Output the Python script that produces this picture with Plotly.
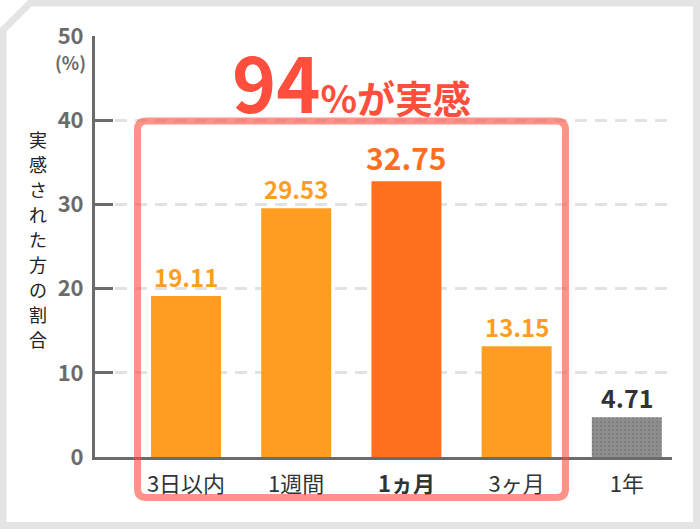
import plotly.graph_objects as go

categories = ["3日以内", "1週間", "1ヵ月", "3ヶ月", "1年"]
values = [19.11, 29.53, 32.75, 13.15, 4.71]
value_labels = ["19.11", "29.53", "32.75", "13.15", "4.71"]
bar_colors = ["#FF9D21", "#FF9D21", "#FF6F1F", "#FF9D21", "#8E8E8E"]
label_colors = ["#FF9D21", "#FF9D21", "#FF6F1F", "#FF9D21", "#333333"]
label_sizes = [24, 24, 30, 24, 25]
bold_category = "1ヵ月"
y_ticks = [0, 10, 20, 30, 40, 50]
y_title = "実感された方の割合"
headline_big = "94"
headline_small = "%が実感"

FONT = "Noto Sans CJK JP"
W, H = 700, 529
L, R, T, B = 95, 28, 36, 72
PW, PH = W - L - R, H - T - B


def px(x):
    return (x - L) / PW


def py(y):
    return (H - B - y) / PH


x_idx = list(range(len(categories)))
ticktext = [f"<b>{c}</b>" if c == bold_category else c for c in categories]

fig = go.Figure()
fig.add_trace(go.Bar(
    x=x_idx, y=values, width=0.635,
    marker=dict(color=bar_colors, line=dict(width=0),
                pattern=dict(shape=["", "", "", "", "."], fgcolor="#9E9E9E",
                             bgcolor=bar_colors, size=4, solidity=0.12)),
    hoverinfo="skip",
))

annotations = []
for i, v in enumerate(values):
    annotations.append(dict(
        x=i, y=v, xref="x", yref="y", text=f"<b>{value_labels[i]}</b>",
        showarrow=False, yanchor="bottom", yshift=0,
        font=dict(family=FONT, size=label_sizes[i], color=label_colors[i])))

# y-axis title, stacked vertically
pitch = 25
annotations.append(dict(
    x=px(38), y=py(239), xref="paper", yref="paper",
    text="<br>".join(f"<span style='font-size:18px'>{c}</span>" for c in y_title),
    showarrow=False, xanchor="center", yanchor="middle", borderpad=0,
    font=dict(family=FONT, size=pitch / 1.3, color="#222222")))

annotations.append(dict(
    x=px(88), y=py(62), xref="paper", yref="paper", text="<b>(%)</b>",
    showarrow=False, xanchor="right", yanchor="middle",
    font=dict(family=FONT, size=18, color="#6B6B6B")))

annotations.append(dict(
    x=px(351), y=py(80), xref="paper", yref="paper",
    text=f"<b><span style='font-size:75px'>{headline_big}</span>"
         f"<span style='font-size:38px'>{headline_small}</span></b>",
    showarrow=False, xanchor="center", yanchor="middle",
    font=dict(family=FONT, size=38, color="#FF4F3C")))


def rounded_rect(x0, y0, x1, y1, r):
    return (f"M {px(x0 + r)},{py(y0)} L {px(x1 - r)},{py(y0)} "
            f"Q {px(x1)},{py(y0)} {px(x1)},{py(y0 + r)} "
            f"L {px(x1)},{py(y1 - r)} Q {px(x1)},{py(y1)} {px(x1 - r)},{py(y1)} "
            f"L {px(x0 + r)},{py(y1)} Q {px(x0)},{py(y1)} {px(x0)},{py(y1 - r)} "
            f"L {px(x0)},{py(y0 + r)} Q {px(x0)},{py(y0)} {px(x0 + r)},{py(y0)} Z")


frame = (f"M {px(3)},{py(30)} L {px(30)},{py(3)} L {px(696.5)},{py(3)} "
         f"L {px(696.5)},{py(525.5)} L {px(3)},{py(525.5)} Z")

shapes = [
    dict(type="path", path=frame, xref="paper", yref="paper",
         line=dict(color="#E4E4E4", width=7), layer="below"),
    dict(type="path", path=rounded_rect(137.5, 121, 565.5, 497.5, 9),
         xref="paper", yref="paper",
         line=dict(color="rgba(255,75,58,0.6)", width=7), layer="above"),
]

fig.update_layout(
    width=W, height=H,
    margin=dict(l=L, r=R, t=T, b=B, autoexpand=False),
    paper_bgcolor="white", plot_bgcolor="white",
    showlegend=False,
    font=dict(family=FONT),
    annotations=annotations,
    shapes=shapes,
    xaxis=dict(
        range=[-0.826, 4.41], tickvals=x_idx, ticktext=ticktext,
        showline=True, linecolor="#6B6B6B", linewidth=3,
        showgrid=False, zeroline=False, ticks="",
        tickfont=dict(family=FONT, size=22, color="#333333"),
        ticklabelstandoff=6, fixedrange=True,
    ),
    yaxis=dict(
        range=[0, 50], tickvals=y_ticks, ticktext=[f"<b>{t}</b>" for t in y_ticks],
        showline=True, linecolor="#6B6B6B", linewidth=3,
        ticks="inside", ticklen=18, tickwidth=3, tickcolor="#6B6B6B",
        showgrid=True, gridcolor="#E2E2E2", gridwidth=3, griddash="12px,8px",
        zeroline=False,
        tickfont=dict(family=FONT, size=22, color="#6B6B6B"),
        ticklabelstandoff=4, fixedrange=True,
    ),
)

fig.write_html(
    "out.html",
    config={"displayModeBar": False},
    post_script="document.body.style.margin='0';document.body.style.overflow='hidden';",
)
